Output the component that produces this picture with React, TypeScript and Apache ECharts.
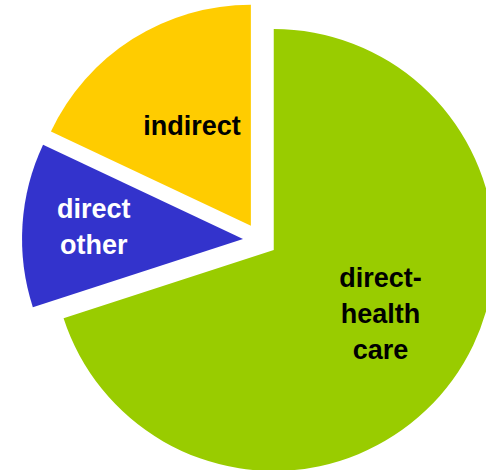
import React, { useEffect, useRef } from "react";
import * as echarts from "echarts";

const categories = ["direct-\nhealth\ncare", "direct\nother", "indirect"];
const values = [70, 12, 18];
const colors = ["#99CC00", "#3333CC", "#FFCC00"];
const labelColors = ["#000000", "#FFFFFF", "#000000"];
const labelShift = [
  [15, -3],
  [-36, -5],
  [2, -4],
];

export default function App() {
  const ref = useRef<HTMLDivElement>(null);
  useEffect(() => {
    if (!ref.current) return;
    const chart = echarts.init(ref.current, null, { renderer: "svg" });
    chart.setOption({
      animation: false,
      backgroundColor: "#FFFFFF",
      series: [
        {
          type: "pie",
          center: [260, 240],
          radius: 221,
          startAngle: 90,
          clockwise: true,
          selectedMode: "multiple",
          selectedOffset: 17,
          avoidLabelOverlap: false,
          emphasis: { disabled: true },
          label: {
            show: true,
            position: "inside",
            fontFamily: "Liberation Sans, Arial, sans-serif",
            fontWeight: "bold",
            fontSize: 27,
            lineHeight: 36,
            align: "center",
          },
          labelLine: { show: false },
          labelLayout: (p: any) => {
            const s = labelShift[p.dataIndex] || [0, 0];
            return { dx: s[0], dy: s[1] };
          },
          data: categories.map((name, i) => ({
            name,
            value: values[i],
            selected: true,
            itemStyle: { color: colors[i] },
            label: { color: labelColors[i] },
            select: { itemStyle: { color: colors[i] }, label: { color: labelColors[i] } },
          })),
        },
      ],
    });
    return () => chart.dispose();
  }, []);
  return (
    <div
      ref={ref}
      style={{ position: "fixed", left: 0, top: 0, width: 486, height: 470 }}
    />
  );
}
